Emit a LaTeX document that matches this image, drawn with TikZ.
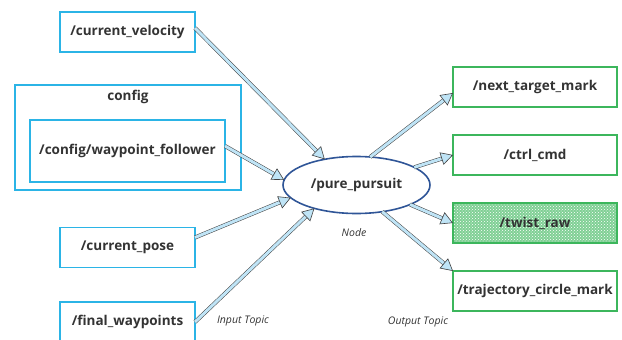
\documentclass[tikz,border=0pt]{standalone}
\usepackage{fontspec}
\setmainfont{Open Sans}
\usetikzlibrary{positioning,shapes.geometric,arrows.meta,patterns}

\definecolor{topicblue}{HTML}{2BB4E6}
\definecolor{topicgreen}{HTML}{3CB65C}
\definecolor{nodeblue}{HTML}{2F5597}
\definecolor{flowfill}{HTML}{BFE4F6}
\definecolor{textgray}{HTML}{333333}

\begin{document}
\begin{tikzpicture}[
    x=1pt, y=-1pt,
    node distance=28pt and 10pt,
    every node/.style = {text=textgray, outer sep=0pt},
 intopic/.style = {
        draw=topicblue, line width=1.6pt, rectangle, align=center,
        minimum width=135pt, minimum height=40pt,
        font=\fontsize{13.5}{15}\selectfont\bfseries},
outtopic/.style = {
        draw=topicgreen, line width=1.6pt, rectangle, align=center,
        minimum width=164pt, minimum height=40pt,
        font=\fontsize{13.5}{15}\selectfont\bfseries},
  rosnode/.style = {
        draw=nodeblue, line width=1.6pt, ellipse,
        minimum width=147pt, minimum height=57pt,
        font=\fontsize{13.5}{15}\selectfont\bfseries},
  caption/.style = {font=\fontsize{10.5}{12}\selectfont\itshape},
     flow/.style = {draw=black!75, line width=0.5pt,
        double=flowfill, double distance=3pt,
        -{Triangle[length=12pt,width=13pt,fill=flowfill,color=black!75,line width=0.6pt]}}
                    ]
\useasboundingbox (0,0) rectangle (622,340);
% the node in the middle
\node (pp) [rosnode] at (356.5,185) {/pure\_pursuit};
\node [caption] at (354,233) {Node};
% the input topics on the left
\node (cv) [intopic] at (127.5,32) {/current\_velocity};
\node (cfg) [draw=topicblue, line width=1.6pt, minimum width=226pt,
             minimum height=105pt] at (128,137.5) {};
\node [font=\fontsize{13.5}{15}\selectfont\bfseries] at (128,97) {config};
\node (wf) [intopic, minimum width=195pt, minimum height=62pt]
             at (127.5,151) {/config/waypoint\_follower};
\node (cp) [intopic] at (127.5,247.5) {/current\_pose};
\node (fw) [intopic] at (127.5,322) {/final\_waypoints};
\node [caption] at (243,321) {Input Topic};
% the output topics on the right
\node (nt) [outtopic] at (535,87) {/next\_target\_mark};
\node (cc) [outtopic,below=of nt] {/ctrl\_cmd};
\node (tw) [outtopic,below=of cc, preaction={fill=topicgreen!65},
            pattern=crosshatch dots, pattern color=white] {/twist\_raw};
\node (tc) [outtopic,below=of tw] {/trajectory\_circle\_mark};
\node [caption] at (418,322) {Output Topic};
% arrows in
\draw[flow] ([yshift=4pt] cv.east) -- (pp.141);
\draw[flow] ([yshift=5pt] wf.east) -- (pp.176);
\draw[flow] ([yshift=10pt] cp.east) -- (pp.191);
\draw[flow] (fw.east) -- (pp.209);
% arrows out
\draw[flow] (pp.64)  -- ([yshift=-6pt] nt.west);
\draw[flow] (pp.17)  -- (cc.west);
\draw[flow] (pp.-20) -- (tw.west);
\draw[flow] (pp.-46) -- (tc.north west);
\end{tikzpicture}
\end{document}
